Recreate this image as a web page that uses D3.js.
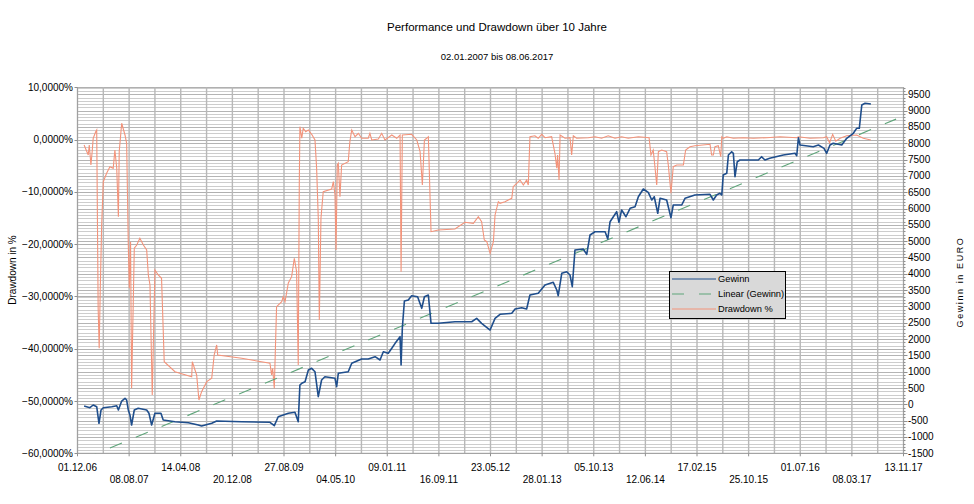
<!DOCTYPE html>
<html>
<head>
<meta charset="utf-8">
<script src="https://d3js.org/d3.v7.min.js"></script>
<style>
  body { margin: 0; background: #fff; }
  svg { display: block; font-family: "Liberation Sans", Arial, sans-serif; }
</style>
</head>
<body>
<div id="chart"></div>
<script>
// Performance und Drawdown chart

var WIDTH = 974;
var HEIGHT = 504;
var LEFT = 77.5, RIGHT = 903.5, TOP = 87.3, BOTTOM = 453.3;

var xTickLabels = ["01.12.06", "08.08.07", "14.04.08", "20.12.08", "27.08.09", "04.05.10",
  "09.01.11", "16.09.11", "23.05.12", "28.01.13", "05.10.13", "12.06.14",
  "17.02.15", "25.10.15", "01.07.16", "08.03.17", "13.11.17"];
var leftTicks = [10, 0, -10, -20, -30, -40, -50, -60];
var rightTicks = [9500, 9000, 8500, 8000, 7500, 7000, 6500, 6000, 5500, 5000, 4500, 4000,
  3500, 3000, 2500, 2000, 1500, 1000, 500, 0, -500, -1000, -1500];

// Gewinn in EURO
var gewinn = [
  ["2007-01-02", -50], ["2007-01-30", -103], ["2007-02-15", -20], ["2007-03-04", -72],
  ["2007-03-15", -581], ["2007-03-25", -173], ["2007-04-05", -103], ["2007-05-16", -72],
  ["2007-06-09", -42], ["2007-06-17", -173], ["2007-07-03", 102], ["2007-07-19", 185],
  ["2007-07-27", 133], ["2007-08-04", -173], ["2007-08-12", -326], ["2007-08-20", -633],
  ["2007-09-02", -173], ["2007-09-21", -121], ["2007-11-01", -173], ["2007-11-12", -274],
  ["2007-11-25", -633], ["2007-12-11", -274], ["2008-01-09", -274], ["2008-01-20", -480],
  ["2008-03-17", -532], ["2008-05-21", -562], ["2008-07-08", -633], ["2008-07-24", -664],
  ["2008-09-11", -581], ["2008-10-05", -510], ["2009-02-03", -532], ["2009-06-20", -550],
  ["2009-07-11", -654], ["2009-07-30", -379], ["2009-09-17", -274], ["2009-10-19", -244],
  ["2009-11-04", -532], ["2009-11-12", 593], ["2009-11-21", 645], ["2009-12-07", 694],
  ["2009-12-23", 1052], ["2010-01-08", 1104], ["2010-01-24", 1000], ["2010-02-09", 234],
  ["2010-02-25", 746], ["2010-03-13", 847], ["2010-05-01", 798], ["2010-05-09", 541],
  ["2010-05-17", 951], ["2010-07-04", 1000], ["2010-07-21", 1258], ["2010-09-07", 1389],
  ["2010-10-09", 1389], ["2010-11-11", 1460], ["2010-12-05", 1359], ["2010-12-21", 1613],
  ["2011-01-14", 1564], ["2011-01-31", 1717], ["2011-02-16", 1870], ["2011-03-12", 2073],
  ["2011-03-17", 1205], ["2011-03-23", 2330], ["2011-04-02", 3166], ["2011-04-21", 3197],
  ["2011-05-07", 3329], ["2011-06-05", 3298], ["2011-06-25", 2943], ["2011-07-08", 3298],
  ["2011-07-27", 3350], ["2011-08-09", 2483], ["2011-09-13", 2483], ["2011-12-03", 2532],
  ["2012-02-22", 2532], ["2012-03-17", 2636], ["2012-04-10", 2483], ["2012-05-21", 2278],
  ["2012-06-14", 2636], ["2012-07-08", 2759], ["2012-09-03", 2790], ["2012-09-19", 2921],
  ["2012-10-21", 2961], ["2012-11-14", 2921], ["2012-11-30", 3350], ["2013-01-09", 3402],
  ["2013-02-11", 3657], ["2013-03-23", 3739], ["2013-04-09", 3504], ["2013-04-16", 3329],
  ["2013-05-03", 4015], ["2013-05-27", 4064], ["2013-06-12", 3963], ["2013-06-23", 3605],
  ["2013-07-06", 4729], ["2013-08-15", 4760], ["2013-09-01", 4597], ["2013-09-17", 5189],
  ["2013-10-11", 5290], ["2013-11-29", 5290], ["2013-12-12", 5066], ["2013-12-23", 5596],
  ["2014-01-08", 5749], ["2014-01-24", 5903], ["2014-02-04", 5578], ["2014-02-17", 5955],
  ["2014-03-10", 5749], ["2014-03-30", 6007], ["2014-04-23", 6056], ["2014-05-09", 6362],
  ["2014-06-02", 6598], ["2014-06-26", 6497], ["2014-07-13", 6261], ["2014-07-25", 6362],
  ["2014-08-11", 5854], ["2014-08-22", 6313], ["2014-09-23", 6261], ["2014-10-14", 5719],
  ["2014-10-25", 6108], ["2014-12-05", 6108], ["2014-12-21", 6313], ["2015-02-07", 6414],
  ["2015-04-21", 6436], ["2015-05-07", 6261], ["2015-05-23", 6414], ["2015-06-08", 6466],
  ["2015-06-17", 6414], ["2015-06-24", 7027], ["2015-07-11", 7079], ["2015-07-19", 7640],
  ["2015-08-04", 7741], ["2015-08-12", 7692], ["2015-08-20", 6975], ["2015-08-31", 7435],
  ["2015-09-13", 7487], ["2015-12-11", 7487], ["2015-12-27", 7588], ["2016-01-12", 7487],
  ["2016-02-04", 7539], ["2016-04-10", 7640], ["2016-06-06", 7692], ["2016-06-14", 7618],
  ["2016-06-22", 8170], ["2016-06-30", 7946], ["2016-09-02", 7894], ["2016-09-27", 7946],
  ["2016-10-24", 7845], ["2016-11-06", 7692], ["2016-11-22", 7946], ["2016-12-08", 7998],
  ["2017-01-18", 7946], ["2017-02-11", 8152], ["2017-03-15", 8305], ["2017-03-31", 8458],
  ["2017-04-13", 8458], ["2017-04-25", 9172], ["2017-05-11", 9224], ["2017-06-08", 9203]
];

// Drawdown in %
var drawdown = [
  ["2007-01-02", -1.03], ["2007-01-22", -2.95], ["2007-01-27", -1.03], ["2007-02-04", -4.86],
  ["2007-02-10", -2.32], ["2007-02-15", 0.25], ["2007-02-27", 1.51], ["2007-03-04", 1.83],
  ["2007-03-11", -32.26], ["2007-03-16", -39.91], ["2007-03-21", -29.09], ["2007-03-28", -16.33],
  ["2007-04-05", -8.05], ["2007-04-21", -6.45], ["2007-05-07", -5.18], ["2007-05-23", -5.49],
  ["2007-05-31", -1.99], ["2007-06-09", -5.49], ["2007-06-17", -14.75], ["2007-06-21", -2.32],
  ["2007-07-03", 3.12], ["2007-07-19", 0.88], ["2007-07-27", -0.71], ["2007-08-04", -20.16],
  ["2007-08-09", -28.44], ["2007-08-15", -19.53], ["2007-08-20", -47.56], ["2007-09-02", -20.79],
  ["2007-09-14", -20.16], ["2007-09-29", -18.88], ["2007-10-16", -20.16], ["2007-11-01", -21.11],
  ["2007-11-09", -25.9], ["2007-11-17", -27.81], ["2007-11-28", -48.84], ["2007-12-11", -24.94],
  ["2007-12-27", -25.9], ["2008-01-12", -26.53], ["2008-01-25", -42.48], ["2008-03-17", -44.39],
  ["2008-06-06", -45.35], ["2008-06-09", -42.48], ["2008-06-22", -44.06], ["2008-06-30", -45.02],
  ["2008-07-11", -49.8], ["2008-07-24", -48.21], ["2008-08-18", -46.3], ["2008-09-11", -45.65],
  ["2008-09-23", -41.19], ["2008-10-05", -39.28], ["2008-10-10", -41.19], ["2009-02-03", -41.83],
  ["2009-06-20", -42.78], ["2009-06-28", -45.02], ["2009-07-03", -43.74], ["2009-07-11", -47.56],
  ["2009-07-22", -31.96], ["2009-08-16", -31.0], ["2009-08-23", -30.05], ["2009-09-01", -31.0],
  ["2009-09-17", -27.43], ["2009-10-03", -26.22], ["2009-10-16", -22.7], ["2009-10-27", -25.26],
  ["2009-11-04", -43.11], ["2009-11-09", -8.68], ["2009-11-12", 2.47], ["2009-11-21", 0.25],
  ["2009-11-28", 2.16], ["2009-12-10", 1.51], ["2009-12-23", 1.83], ["2010-01-08", 1.01],
  ["2010-01-24", -0.08], ["2010-02-01", -5.49], ["2010-02-09", -15.05], ["2010-02-14", -34.5],
  ["2010-02-22", -15.05], ["2010-03-05", -9.97], ["2010-04-15", -9.45], ["2010-04-23", -8.05],
  ["2010-05-01", -10.6], ["2010-05-06", -21.11], ["2010-05-12", -4.86], ["2010-05-17", -4.53],
  ["2010-05-25", -10.92], ["2010-06-02", -4.86], ["2010-07-04", -4.23], ["2010-07-12", -0.4],
  ["2010-07-21", 1.83], ["2010-08-06", 0.55], ["2010-08-22", 1.2], ["2010-09-07", 0.25],
  ["2010-10-09", 0.25], ["2010-10-17", 1.2], ["2010-10-26", -0.08], ["2010-11-27", 0.11],
  ["2010-12-13", 1.2], ["2010-12-29", -0.08], ["2011-01-31", 0.88], ["2011-02-24", 0.25],
  ["2011-03-12", 0.88], ["2011-03-17", -25.26], ["2011-03-23", 0.88], ["2011-05-07", 1.01],
  ["2011-06-01", -0.08], ["2011-06-17", -2.32], ["2011-06-28", -8.68], ["2011-07-08", -0.08],
  ["2011-07-19", 0.25], ["2011-07-27", 0.55], ["2011-08-09", -17.61], ["2011-09-13", -17.29],
  ["2011-12-03", -17.1], ["2012-01-20", -15.82], ["2012-03-01", -16.01], ["2012-03-25", -14.75],
  ["2012-04-10", -15.7], ["2012-04-23", -19.2], ["2012-05-05", -19.53], ["2012-05-21", -21.75],
  ["2012-06-06", -19.53], ["2012-06-14", -14.42], ["2012-06-30", -11.88], ["2012-07-08", -12.18],
  ["2012-08-01", -11.88], ["2012-09-03", -11.23], ["2012-09-10", -9.01], ["2012-09-27", -8.36],
  ["2012-10-13", -7.73], ["2012-10-29", -8.68], ["2012-11-14", -7.73], ["2012-11-22", -8.68],
  ["2012-11-30", 0.55], ["2012-12-24", 0.74], ["2013-01-09", 0.25], ["2013-01-26", 1.01],
  ["2013-02-11", 0.36], ["2013-03-15", 0.55], ["2013-03-31", -2.62], ["2013-04-09", -5.49],
  ["2013-04-13", -2.95], ["2013-04-20", -7.73], ["2013-04-25", 0.88], ["2013-05-19", 0.25],
  ["2013-06-12", 0.36], ["2013-06-20", -2.95], ["2013-06-28", 0.74], ["2013-07-14", 0.25],
  ["2013-09-09", 0.36], ["2013-10-11", 0.55], ["2013-11-12", 0.25], ["2013-12-14", 0.74],
  ["2014-01-16", 0.25], ["2014-02-17", 0.55], ["2014-03-21", 0.25], ["2014-05-09", 0.55],
  ["2014-06-30", 0.36], ["2014-07-09", -2.95], ["2014-07-20", -1.99], ["2014-07-29", -5.49],
  ["2014-08-06", -8.68], ["2014-08-14", -2.32], ["2014-08-30", -1.99], ["2014-09-23", -2.32],
  ["2014-10-01", -4.86], ["2014-10-14", -10.27], ["2014-10-25", -5.18], ["2014-11-11", -4.86],
  ["2014-12-13", -4.86], ["2014-12-24", -1.99], ["2015-01-14", -1.36], ["2015-02-07", -1.17],
  ["2015-04-21", -0.9], ["2015-04-29", -2.95], ["2015-05-07", -2.95], ["2015-05-15", -1.36],
  ["2015-05-31", -1.17], ["2015-06-12", -3.27], ["2015-06-17", 0.55], ["2015-06-24", 0.25],
  ["2015-07-11", 0.55], ["2015-08-12", 0.25], ["2015-09-29", 0.36], ["2015-11-17", 0.25],
  ["2016-01-21", 0.36], ["2016-03-25", 0.55], ["2016-06-14", 0.36], ["2016-06-22", 0.55],
  ["2016-08-17", 0.25], ["2016-10-21", 0.36], ["2016-11-06", 0.55], ["2016-11-20", -0.6],
  ["2016-12-05", 1.0], ["2016-12-20", -0.3], ["2017-01-10", 0.25], ["2017-02-11", 0.74],
  ["2017-03-31", 0.88], ["2017-05-02", 0.25], ["2017-06-08", -0.08]
];

// Linear (Gewinn) trend end points
var trend = [["2007-01-02", -1670], ["2017-10-08", 8740]];

var legendNames = ["Gewinn", "Linear (Gewinn)", "Drawdown %"];
var legendColors = ["#1f4e8c", "#5fa57a", "#f3937a"];

var parseIso = d3.timeParse("%Y-%m-%d");
var parseTick = d3.timeParse("%d.%m.%y");
var tickDates = xTickLabels.map(parseTick);

var de = d3.formatLocale({ decimal: ",", thousands: ".", grouping: [3], currency: ["", " €"] });
var fmtPct = de.format(".4f");

var svg = d3.select("#chart").append("svg")
  .attr("width", WIDTH).attr("height", HEIGHT);

var x = d3.scaleTime().domain([tickDates[0], tickDates[tickDates.length - 1]]).range([LEFT, RIGHT]);
var yL = d3.scaleLinear().domain([-60, 10]).range([BOTTOM, TOP]);
var yR = d3.scaleLinear().domain([-1500, 9715]).range([BOTTOM, TOP]);

function crisp(v) { return Math.round(v) + 0.5; }

// horizontal grid (minor of right axis)
var grid = svg.append("g");
grid.selectAll("line.hmin")
  .data(d3.range(-1400, 9701, 100))
  .enter().append("line")
  .attr("x1", LEFT).attr("x2", RIGHT)
  .attr("y1", function (d) { return crisp(yR(d)); })
  .attr("y2", function (d) { return crisp(yR(d)); })
  .style("stroke", function (d) { return d % 500 === 0 ? "#b4b4b4" : "#cdcdcd"; })
  .style("stroke-width", 1);

grid.selectAll("line.hmaj")
  .data(leftTicks)
  .enter().append("line")
  .attr("x1", LEFT).attr("x2", RIGHT)
  .attr("y1", function (d) { return crisp(yL(d)); })
  .attr("y2", function (d) { return crisp(yL(d)); })
  .style("stroke", "#b0b0b0");

// vertical grid, on each tick and half way between
var vDates = [];
tickDates.forEach(function (d, i) {
  vDates.push(d);
  if (i < tickDates.length - 1) {
    vDates.push(new Date((d.getTime() + tickDates[i + 1].getTime()) / 2));
  }
});
grid.selectAll("line.v")
  .data(vDates)
  .enter().append("line")
  .attr("x1", function (d) { return x(d); }).attr("x2", function (d) { return x(d); })
  .attr("y1", TOP).attr("y2", BOTTOM)
  .style("stroke", "#b8b8b8")
  .style("stroke-width", 1.4);

// axes
svg.append("line").attr("x1", LEFT).attr("x2", LEFT).attr("y1", TOP).attr("y2", BOTTOM)
  .style("stroke", "#a0a0a0");
svg.append("line").attr("x1", RIGHT).attr("x2", RIGHT).attr("y1", TOP).attr("y2", BOTTOM)
  .style("stroke", "#a0a0a0");
svg.append("line").attr("x1", LEFT).attr("x2", RIGHT).attr("y1", BOTTOM).attr("y2", BOTTOM)
  .style("stroke", "#a0a0a0");

// right axis ticks
svg.selectAll("line.rt")
  .data(d3.range(-1500, 9701, 100))
  .enter().append("line")
  .attr("x1", RIGHT).attr("x2", function (d) { return RIGHT + (d % 500 === 0 ? 4 : 2); })
  .attr("y1", function (d) { return crisp(yR(d)); })
  .attr("y2", function (d) { return crisp(yR(d)); })
  .style("stroke", "#909090");

// left axis ticks
svg.selectAll("line.lt")
  .data(leftTicks)
  .enter().append("line")
  .attr("x1", LEFT - 3).attr("x2", LEFT)
  .attr("y1", function (d) { return crisp(yL(d)); })
  .attr("y2", function (d) { return crisp(yL(d)); })
  .style("stroke", "#909090");

// bottom ticks
svg.selectAll("line.bt")
  .data(tickDates)
  .enter().append("line")
  .attr("x1", function (d) { return x(d); }).attr("x2", function (d) { return x(d); })
  .attr("y1", BOTTOM).attr("y2", BOTTOM + 3)
  .style("stroke", "#909090");

// tick labels
svg.selectAll("text.lt")
  .data(leftTicks)
  .enter().append("text")
  .attr("x", 73).attr("y", function (d) { return yL(d); })
  .attr("dy", "0.35em")
  .style("text-anchor", "end")
  .style("font-size", "10px")
  .text(function (d) { return fmtPct(d) + "%"; });

svg.selectAll("text.rt")
  .data(rightTicks)
  .enter().append("text")
  .attr("x", 908).attr("y", function (d) { return yR(d); })
  .attr("dy", "0.35em")
  .style("font-size", "10px")
  .text(function (d) { return d; });

svg.selectAll("text.bt")
  .data(xTickLabels)
  .enter().append("text")
  .attr("x", function (d, i) { return x(tickDates[i]); })
  .attr("y", function (d, i) { return i % 2 === 0 ? 467 : 479; })
  .attr("dy", "0.35em")
  .style("text-anchor", "middle")
  .style("font-size", "10px")
  .text(function (d) { return d; });

// titles
svg.append("text").attr("x", 497).attr("y", 27).attr("dy", "0.35em")
  .style("text-anchor", "middle").style("font-size", "11.5px")
  .text("Performance und Drawdown über 10 Jahre");
svg.append("text").attr("x", 497).attr("y", 57).attr("dy", "0.35em")
  .style("text-anchor", "middle").style("font-size", "9.5px")
  .text("02.01.2007 bis 08.06.2017");
svg.append("text")
  .attr("transform", "translate(12,270) rotate(-90)").attr("dy", "0.35em")
  .style("text-anchor", "middle").style("font-size", "10px")
  .text("Drawdown in %");
svg.append("text")
  .attr("transform", "translate(960,282) rotate(-90)").attr("dy", "0.35em")
  .style("text-anchor", "middle").style("font-size", "9px")
  .style("letter-spacing", "1.6px")
  .text("Gewinn in EURO");

// series
svg.append("clipPath").attr("id", "plotclip")
  .append("rect").attr("x", LEFT).attr("y", TOP)
  .attr("width", RIGHT - LEFT).attr("height", BOTTOM - TOP);
var plot = svg.append("g").attr("clip-path", "url(#plotclip)");

var lineL = d3.line()
  .x(function (d) { return x(parseIso(d[0])); })
  .y(function (d) { return yL(d[1]); });
var lineR = d3.line()
  .x(function (d) { return x(parseIso(d[0])); })
  .y(function (d) { return yR(d[1]); });

plot.append("path").datum(drawdown)
  .attr("d", lineL)
  .style("fill", "none").style("stroke", legendColors[2]).style("stroke-width", 1.1);

plot.append("path").datum(trend)
  .attr("d", lineR)
  .style("fill", "none").style("stroke", legendColors[1]).style("stroke-width", 1.1)
  .style("stroke-dasharray", "13,15");

plot.append("path").datum(gewinn)
  .attr("d", lineR)
  .style("fill", "none").style("stroke", legendColors[0]).style("stroke-width", 1.6)
  .style("stroke-linejoin", "round");

// legend
var legend = svg.append("g").attr("transform", "translate(669,271)");
legend.append("rect").attr("x", 0.5).attr("y", 0.5).attr("width", 116).attr("height", 47)
  .style("fill", "#d9d9d9").style("stroke", "#000").style("stroke-width", 1);
legendNames.forEach(function (name, i) {
  var ly = 8 + i * 15;
  legend.append("line").attr("x1", 3).attr("x2", 47).attr("y1", ly).attr("y2", ly)
    .style("stroke", legendColors[i]).style("stroke-width", 1.2)
    .style("stroke-dasharray", i === 1 ? "12,15" : null);
  legend.append("text").attr("x", 49).attr("y", ly).attr("dy", "0.35em")
    .style("font-size", "9.3px").text(name);
});
</script>
</body>
</html>
